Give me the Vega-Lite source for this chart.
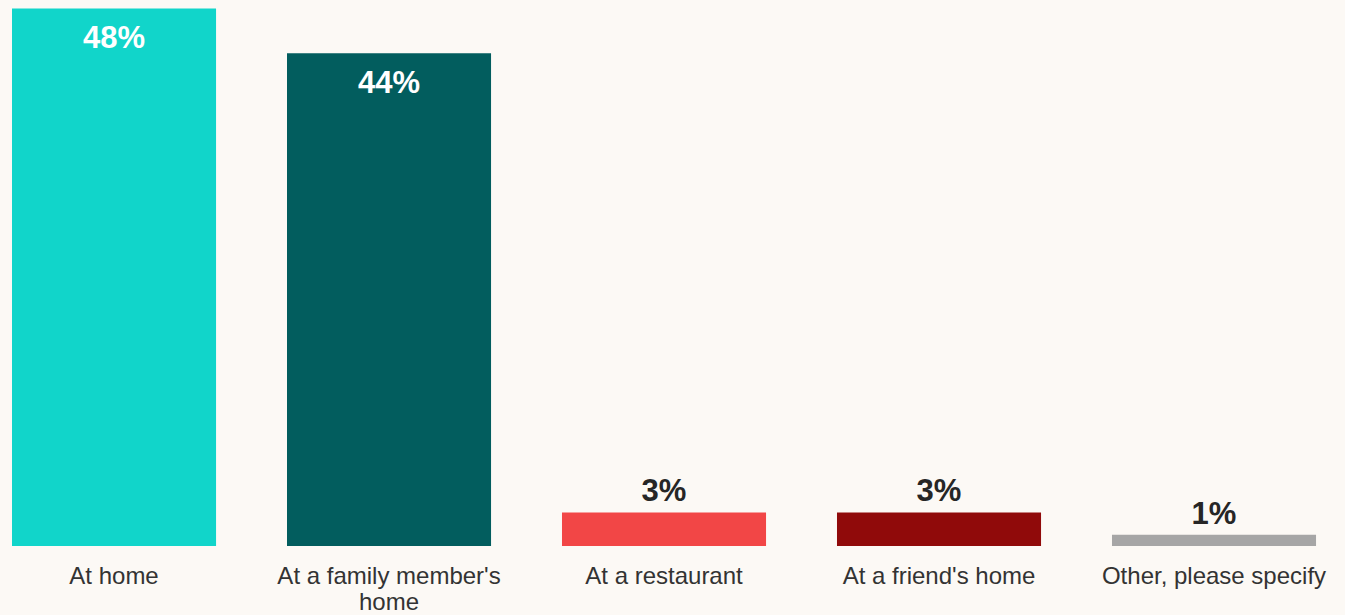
{
  "$schema": "https://vega.github.io/schema/vega-lite/v6.json",
  "width": 1345,
  "height": 546,
  "padding": {"left": 0, "top": 0, "right": 0, "bottom": 69},
  "autosize": {"type": "none"},
  "background": "#FCF9F5",
  "config": {"view": {"stroke": null}, "font": "Liberation Sans"},
  "data": {"values": [
    {"cat": "At home", "value": 0.48},
    {"cat": "At a family member's home", "value": 0.44},
    {"cat": "At a restaurant", "value": 0.03},
    {"cat": "At a friend's home", "value": 0.03},
    {"cat": "Other, please specify", "value": 0.01}
  ]},
  "encoding": {
    "x": {"field": "cat", "type": "nominal", "sort": null,
      "scale": {"paddingInner": 0.258, "paddingOuter": 0.0745, "align": 0.293},
      "axis": {"title": null, "domain": false, "ticks": false, "labelAngle": 0,
        "labelFontSize": 24, "labelColor": "#333333", "labelPadding": 18, "labelLimit": 0,
        "labelLineHeight": 26, "labelFont": "Liberation Sans",
        "labelExpr": "datum.label == \"At a family member's home\" ? [\"At a family member's\", 'home'] : datum.label"}},
    "y": {"field": "value", "type": "quantitative",
      "scale": {"domain": [0, 0.4875], "nice": false, "zero": true}, "axis": null}
  },
  "layer": [
    {"mark": {"type": "bar"},
     "encoding": {"color": {"field": "cat", "type": "nominal", "sort": null, "legend": null,
       "scale": {"domain": ["At home", "At a family member's home", "At a restaurant", "At a friend's home", "Other, please specify"],
                 "range": ["#11D5CA", "#025D5E", "#F24646", "#900A0A", "#A6A6A6"]}}}},
    {"transform": [{"filter": "datum.value > 0.1"}],
     "mark": {"type": "text", "baseline": "alphabetic", "dy": 40, "fontSize": 31, "fontWeight": "bold", "color": "#FFFFFF"},
     "encoding": {"text": {"field": "value", "type": "quantitative", "format": ".0%"}}},
    {"transform": [{"filter": "datum.value <= 0.1"}],
     "mark": {"type": "text", "baseline": "alphabetic", "dy": -11, "fontSize": 31, "fontWeight": "bold", "color": "#262626"},
     "encoding": {"text": {"field": "value", "type": "quantitative", "format": ".0%"}}}
  ]
}
